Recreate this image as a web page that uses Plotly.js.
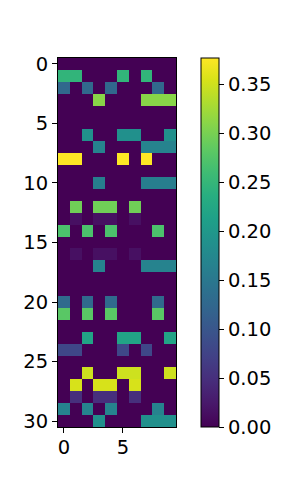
<!DOCTYPE html>
<html>
<head>
<meta charset="utf-8">
<script src="https://cdn.plot.ly/plotly-3.0.1.min.js"></script>
<style>html,body{margin:0;padding:0;background:#fff}#c{width:292px;height:480px}</style>
</head>
<body>
<div id="c"></div>
<script>
const columns = [0,1,2,3,4,5,6,7,8,9];
const rowIndex = Array.from({length:31},(_,i)=>i);
const r00=[0,0,0,0,0,0,0,0,0,0];
const r01=[.247,.247,0,0,0,.247,0,.247,0,0];
const r02=[.126,0,.126,0,.126,0,0,0,.126,0];
const r03=[0,0,0,.31,0,0,0,.31,.31,.31];
const r04=[0,0,0,0,0,0,0,0,0,0];
const r05=[0,0,0,0,0,0,0,0,0,0];
const r06=[0,0,.188,0,0,.188,.188,0,0,.188];
const r07=[0,0,0,.167,0,0,0,.167,.167,.167];
const r08=[.377,.377,0,0,0,.377,0,.377,0,0];
const r09=[0,0,0,0,0,0,0,0,0,0];
const r10=[0,0,0,.16,0,0,0,.16,.16,.16];
const r11=[0,0,0,0,0,0,0,0,0,0];
const r12=[0,.295,0,.295,.295,0,.295,0,0,0];
const r13=[0,.015,0,.015,.015,0,.015,0,0,0];
const r14=[.27,0,.27,0,.27,0,0,0,.27,0];
const r15=[0,0,0,0,0,0,0,0,0,0];
const r16=[0,.015,0,.015,.015,0,.015,0,0,0];
const r17=[0,0,0,.167,0,0,0,.167,.167,.167];
const r18=[0,0,0,0,0,0,0,0,0,0];
const r19=[0,0,0,0,0,0,0,0,0,0];
const r20=[.13,0,.13,0,.13,0,0,0,.13,0];
const r21=[.28,0,.28,0,.28,0,0,0,.28,0];
const r22=[0,0,0,0,0,0,0,0,0,0];
const r23=[0,0,.22,0,0,.22,.22,0,0,.22];
const r24=[.08,.08,0,0,0,.08,0,.08,0,0];
const r25=[0,0,0,0,0,0,0,0,0,0];
const r26=[0,0,.349,0,0,.349,.349,0,0,.349];
const r27=[0,.354,0,.354,.354,0,.354,0,0,0];
const r28=[0,.05,0,.05,.05,0,.05,0,0,0];
const r29=[.167,0,.167,0,.167,0,0,0,.167,0];
const r30=[0,0,0,.188,0,0,0,.188,.188,.188];
const matrix=[r00,r01,r02,r03,r04,r05,r06,r07,r08,r09,r10,r11,r12,r13,r14,r15,r16,r17,r18,r19,r20,r21,r22,r23,r24,r25,r26,r27,r28,r29,r30];
const xTicks=[0,5];
const yTicks=[0,5,10,15,20,25,30];
const cbTicks=[0,.05,.1,.15,.2,.25,.3,.35];
const cbLabels=['0.00','0.05','0.10','0.15','0.20','0.25','0.30','0.35'];

const font={family:'"DejaVu Sans", sans-serif',size:19.5,color:'#000'};
const axisStyle={showgrid:false,zeroline:false,showline:true,mirror:true,linecolor:'#000',linewidth:1,
  ticks:'outside',ticklen:5,tickwidth:1,tickcolor:'#000',tickfont:font,tickmode:'array'};

Plotly.newPlot('c',[{
  type:'heatmap',x:columns,y:rowIndex,z:matrix,zmin:0,zmax:.377,colorscale:'Viridis',zsmooth:false,
  colorbar:{x:1.21,xanchor:'left',xpad:0,y:0.5,yanchor:'middle',ypad:0,len:1,lenmode:'fraction',
    thickness:18,thicknessmode:'pixels',outlinecolor:'#000',outlinewidth:1,ticks:'outside',ticklen:5,
    tickwidth:1,tickcolor:'#000',tickfont:font,tickmode:'array',tickvals:cbTicks,ticktext:cbLabels}
}],{
  width:292,height:480,margin:{l:57.5,r:115.5,t:58,b:53,pad:0},
  paper_bgcolor:'#fff',plot_bgcolor:'#fff',font:font,
  xaxis:Object.assign({},axisStyle,{range:[-0.5,9.5],tickvals:xTicks,ticklabelstandoff:-2}),
  yaxis:Object.assign({},axisStyle,{range:[30.5,-0.5],tickvals:yTicks})
},{displayModeBar:false,responsive:false});
</script>
</body>
</html>
